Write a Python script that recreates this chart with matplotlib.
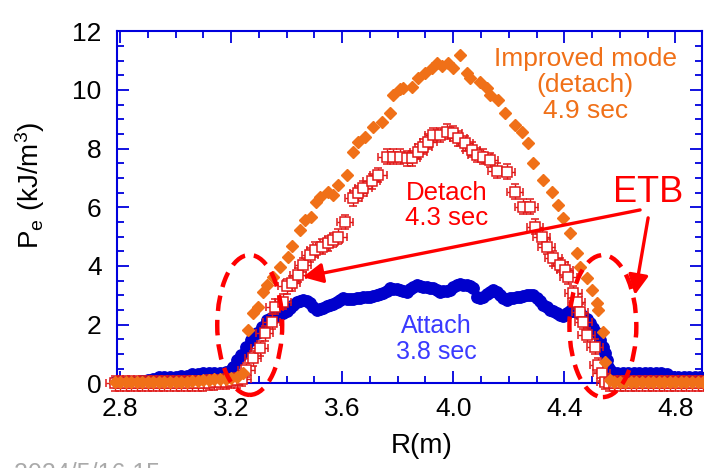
import matplotlib
matplotlib.use("Agg")
import matplotlib.pyplot as plt
from matplotlib.patches import Ellipse

plt.rcParams['font.family'] = ['Liberation Sans', 'DejaVu Sans']
plt.rcParams['mathtext.fontset'] = 'custom'
plt.rcParams['mathtext.rm'] = 'Liberation Sans'
plt.rcParams['mathtext.it'] = 'Liberation Sans:italic'

# Attach 3.8 sec
r_attach = [2.78, 2.80, 2.82, 2.84, 2.86, 2.88, 2.90, 2.92, 2.94, 2.96, 2.98, 3.00,
            3.02, 3.04, 3.06, 3.08, 3.10, 3.12, 3.14, 3.16, 3.18, 3.20,
            3.207, 3.222, 3.237, 3.255, 3.273, 3.292, 3.310, 3.328, 3.343, 3.357,
            3.372, 3.387, 3.400, 3.412, 3.424, 3.436, 3.448, 3.459, 3.472, 3.484,
            3.496, 3.508, 3.520, 3.532, 3.544, 3.556, 3.568, 3.580, 3.592, 3.604,
            3.616, 3.628, 3.640, 3.652, 3.664, 3.676, 3.688, 3.700, 3.712, 3.724,
            3.736, 3.748, 3.760, 3.772, 3.784, 3.796, 3.808, 3.820, 3.832, 3.844,
            3.856, 3.868, 3.880, 3.892, 3.904, 3.916, 3.928, 3.940, 3.952, 3.964,
            3.976, 3.988, 4.000, 4.012, 4.024, 4.036, 4.048, 4.060, 4.072, 4.084,
            4.096, 4.108, 4.120, 4.132, 4.144, 4.156, 4.168, 4.180, 4.192, 4.204,
            4.216, 4.228, 4.240, 4.252, 4.264, 4.276, 4.288, 4.300, 4.312, 4.324,
            4.336, 4.348, 4.360, 4.372, 4.385, 4.397, 4.409, 4.421, 4.433, 4.445,
            4.457, 4.469, 4.481, 4.493, 4.505, 4.517, 4.529, 4.538, 4.547, 4.553,
            4.559, 4.565, 4.571, 4.59, 4.61, 4.63, 4.65, 4.67, 4.69, 4.71, 4.73,
            4.75, 4.77, 4.79, 4.81, 4.83, 4.85, 4.87, 4.89]
pe_attach = [0.05, 0.05, 0.05, 0.05, 0.06, 0.08, 0.10, 0.15, 0.22, 0.22, 0.22, 0.23,
             0.24, 0.26, 0.30, 0.32, 0.34, 0.34, 0.35, 0.36, 0.38, 0.45,
             0.57, 0.80, 0.96, 1.25, 1.48, 1.70, 1.93, 2.16, 2.22, 2.27,
             2.33, 2.39, 2.48, 2.56, 2.67, 2.78, 2.82, 2.84, 2.80, 2.73,
             2.60, 2.50, 2.53, 2.56, 2.62, 2.67, 2.72, 2.78, 2.84, 2.90,
             2.88, 2.86, 2.88, 2.90, 2.92, 2.93, 2.95, 2.95, 2.98, 3.02,
             3.05, 3.07, 3.15, 3.24, 3.22, 3.20, 3.18, 3.15, 3.12, 3.20,
             3.28, 3.35, 3.32, 3.29, 3.27, 3.25, 3.24, 3.18, 3.12, 3.14,
             3.16, 3.18, 3.28, 3.35, 3.38, 3.36, 3.35, 3.30, 3.24, 2.95,
             2.92, 2.95, 3.05, 3.12, 3.18, 3.12, 3.00, 2.92, 2.85, 2.90,
             2.92, 2.94, 2.95, 2.97, 3.00, 3.01, 3.00, 2.90, 2.80, 2.67,
             2.60, 2.50, 2.45, 2.39, 2.32, 2.30, 2.40, 2.48, 2.46, 2.42,
             2.39, 2.30, 2.18, 2.05, 1.90, 1.72, 1.48, 1.25, 1.02, 0.80,
             0.57, 0.45, 0.34, 0.34, 0.34, 0.34, 0.34, 0.34, 0.34, 0.34, 0.34,
             0.34, 0.30, 0.22, 0.20, 0.20, 0.20, 0.20, 0.20]

# Detach 4.3 sec
r_detach = [2.78, 2.80, 2.82, 2.84, 2.86, 2.88, 2.90, 2.92, 2.94, 2.96, 2.98, 3.00,
            3.02, 3.04, 3.06, 3.08, 3.10, 3.12, 3.14, 3.16, 3.18, 3.20, 3.22,
            3.240, 3.255, 3.279, 3.303, 3.321, 3.346, 3.357, 3.387, 3.400, 3.418,
            3.441, 3.459, 3.484, 3.502, 3.526, 3.550, 3.568, 3.586, 3.610, 3.640,
            3.658, 3.676, 3.706, 3.730, 3.760, 3.784, 3.808, 3.832, 3.850, 3.874,
            3.892, 3.910, 3.928, 3.952, 3.976, 4.000, 4.018, 4.042, 4.066, 4.084,
            4.108, 4.132, 4.156, 4.192, 4.222, 4.252, 4.276, 4.294, 4.318, 4.337,
            4.360, 4.385, 4.403, 4.414, 4.432, 4.445, 4.457, 4.469, 4.481, 4.511,
            4.523, 4.535, 4.547, 4.56, 4.58, 4.60, 4.62, 4.64, 4.66, 4.68, 4.70,
            4.72, 4.74, 4.76, 4.78, 4.80, 4.82, 4.84, 4.86, 4.88, 4.90]
pe_detach = [0.0, 0.0, 0.0, 0.0, 0.0, 0.0, 0.0, 0.0, 0.0, 0.0, 0.0, 0.0,
             0.0, 0.0, 0.0, 0.0, 0.0, 0.02, 0.03, 0.04, 0.05, 0.08, 0.10,
             0.15, 0.45, 0.85, 1.19, 1.70, 2.10, 2.61, 2.78, 3.30, 3.41,
             3.69, 4.03, 4.37, 4.55, 4.66, 4.77, 4.88, 5.00, 5.50, 6.31,
             6.48, 6.65, 6.88, 7.10, 7.73, 7.73, 7.73, 7.67, 7.67, 7.90,
             8.07, 8.24, 8.47, 8.47, 8.58, 8.52, 8.35, 8.18, 7.96, 7.78,
             7.73, 7.61, 7.25, 7.21, 6.53, 6.02, 6.02, 5.34, 5.00, 4.66,
             4.26, 4.03, 3.87, 3.64, 3.07, 2.78, 2.44, 2.10, 1.65, 1.25,
             0.62, 0.34, 0.05, 0.0, 0.0, 0.0, 0.0, 0.0, 0.0, 0.0, 0.0,
             0.0, 0.0, 0.0, 0.0, 0.0, 0.0, 0.0, 0.0, 0.0, 0.0]

# Improved mode (detach) 4.9 sec
r_improved = [2.78, 2.80, 2.82, 2.84, 2.86, 2.88, 2.90, 2.92, 2.94, 2.96, 2.98, 3.00,
              3.02, 3.04, 3.06, 3.08, 3.10, 3.12, 3.14, 3.16, 3.18, 3.20, 3.22,
              3.243, 3.261, 3.279, 3.297, 3.315, 3.328, 3.351, 3.376, 3.405, 3.421,
              3.448, 3.466, 3.486, 3.505, 3.520, 3.550, 3.568, 3.586, 3.616, 3.640,
              3.658, 3.682, 3.712, 3.742, 3.772, 3.784, 3.808, 3.820, 3.850, 3.874,
              3.898, 3.922, 3.940, 3.958, 3.982, 4.000, 4.024, 4.048, 4.060, 4.096,
              4.120, 4.132, 4.162, 4.186, 4.222, 4.246, 4.270, 4.288, 4.324, 4.355,
              4.378, 4.396, 4.421, 4.445, 4.457, 4.481, 4.499, 4.517, 4.523, 4.541,
              4.547, 4.565, 4.58, 4.60, 4.62, 4.64, 4.66, 4.68, 4.70, 4.72, 4.74,
              4.76, 4.78, 4.80, 4.82, 4.84, 4.86, 4.88, 4.90]
pe_improved = [0.05, 0.05, 0.05, 0.05, 0.05, 0.05, 0.05, 0.05, 0.05, 0.05, 0.05, 0.05,
               0.06, 0.06, 0.07, 0.08, 0.10, 0.12, 0.14, 0.15, 0.16, 0.18, 0.22,
               0.34, 1.82, 2.39, 2.61, 3.12, 3.35, 3.64, 3.98, 4.32, 4.68,
               5.23, 5.57, 5.68, 6.19, 6.36, 6.53, 6.42, 6.76, 7.10, 7.90,
               8.24, 8.41, 8.75, 8.92, 9.20, 9.83, 10.02, 10.06, 10.09, 10.40,
               10.57, 10.74, 10.91, 10.80, 10.91, 10.74, 11.19, 10.57, 10.40, 10.28,
               10.06, 9.83, 9.66, 9.20, 8.80, 8.58, 8.18, 7.50, 6.93, 6.53,
               6.08, 5.63, 5.12, 4.43, 3.98, 3.58, 3.18, 2.73, 2.50, 1.76,
               0.74, 0.11, 0.05, 0.05, 0.05, 0.05, 0.05, 0.05, 0.05, 0.05, 0.05,
               0.05, 0.05, 0.05, 0.05, 0.05, 0.05, 0.05, 0.05]

x_ticks = [2.8, 3.2, 3.6, 4.0, 4.4, 4.8]
y_ticks = [0, 2, 4, 6, 8, 10, 12]

blue = '#0000cc'
axis_blue = '#0000dd'
red = '#ff0000'
sq_red = '#e01818'
orange = '#f07018'

fig = plt.figure(figsize=(7.04, 4.68), dpi=100)
ax = fig.add_axes([117 / 704, 1 - 383.3 / 468, (702 - 117) / 704, (383.3 - 31.3) / 468])

ax.plot(r_attach, pe_attach, 'o', color=blue, ms=8.2, mec=blue, clip_on=False, zorder=3)

eb = ax.errorbar(r_detach, pe_detach, xerr=0.03, yerr=0.25, fmt='s', ms=7.0,
                 mfc='white', mec=sq_red, mew=1.1, ecolor=sq_red, elinewidth=1.0,
                 capsize=2.8, capthick=1.0, zorder=4)
for art in eb.get_children():
    art.set_clip_on(False)

ax.plot(r_improved, pe_improved, 'D', color=orange, ms=6.5, mec=orange,
        clip_on=False, zorder=5)

ax.set_xlim(2.789, 4.896)
ax.set_ylim(0, 12)
ax.set_xticks(x_ticks)
ax.set_xticklabels([f'{v:.1f}' for v in x_ticks])
ax.set_yticks(y_ticks)
ax.set_xticks([v / 10 for v in range(28, 49)], minor=True)
ax.set_yticks([v / 2 for v in range(0, 25)], minor=True)

for sp in ax.spines.values():
    sp.set_color(axis_blue)
    sp.set_linewidth(1.5)
ax.tick_params(which='both', direction='in', top=True, right=True,
               color=axis_blue, width=1.3, labelsize=19, labelcolor='black')
ax.tick_params(which='major', length=8.5)
ax.tick_params(which='minor', length=5)
ax.tick_params(axis='x', which='major', pad=10)
ax.tick_params(axis='y', which='major', pad=11)

fig.text(30 / 704, 1 - 185 / 468, r'P$_{\rm e}$ (kJ/m$^{3}$)', rotation=90,
         ha='center', va='center', fontsize=20)
fig.text(422 / 704, 1 - 446 / 468, 'R(m)', ha='center', va='center', fontsize=20)
fig.text(14 / 704, 1 - 462 / 468, '2024/5/16 15', ha='left', va='top',
         fontsize=18, color='#aaaaaa')

# labels for the three profiles
ax.text(4.475, 10.17, 'Improved mode\n(detach)\n4.9 sec', color=orange,
        ha='center', va='center', fontsize=19, linespacing=1.1, zorder=7)
ax.text(3.977, 6.05, 'Detach\n4.3 sec', color=red, ha='center', va='center',
        fontsize=18.5, linespacing=1.05, zorder=7)
ax.text(3.94, 1.51, 'Attach\n3.8 sec', color='#3a3aff', ha='center', va='center',
        fontsize=18, linespacing=1.1, zorder=7)
ax.text(4.702, 6.52, 'ETB', color=red, ha='center', va='center', fontsize=26, zorder=7)

# edge transport barrier regions
for xc, yc, w, h in [(3.267, 1.99, 0.234, 4.77), (4.539, 1.95, 0.241, 4.84)]:
    ell = Ellipse((xc, yc), w, h, fill=False, edgecolor=red, lw=3.2,
                  linestyle=(0, (3.5, 2)), clip_on=False, zorder=8)
    ax.add_patch(ell)

arrow = dict(arrowstyle='-|>,head_length=0.6,head_width=0.3', color=red, lw=2.4,
             mutation_scale=20, shrinkA=0, shrinkB=0)
ax.annotate('', xy=(3.458, 3.62), xytext=(4.673, 5.91), arrowprops=arrow, zorder=8)
ax.annotate('', xy=(4.654, 3.01), xytext=(4.702, 5.64), arrowprops=arrow, zorder=8)

fig.savefig('out.png', dpi=100)
